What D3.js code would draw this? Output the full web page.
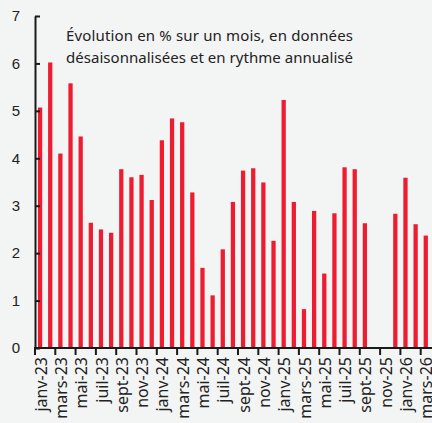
<!DOCTYPE html>
<html>
<head>
<meta charset="utf-8">
<script src="https://cdn.jsdelivr.net/npm/d3@7"></script>
<style>
  body { margin: 0; background: #f3f4f4; }
  svg { display: block; font-family: "Noto Sans", sans-serif; }
</style>
</head>
<body>
<div id="chart"></div>
<script>
// monthly labels, janv-23 .. mars-26
var monthNames = ["janv", "févr", "mars", "avr", "mai", "juin", "juil", "août", "sept", "oct", "nov", "déc"];
var months = [];
for (var i = 0; i < 39; i++) {
    months.push(monthNames[i % 12] + "-" + (23 + Math.floor(i / 12)));
}

// % change m/m, seasonally adjusted, annualised (oct-25 & nov-25 missing)
var values = [5.07, 6.02, 4.10, 5.58, 4.46, 2.64, 2.50, 2.43, 3.77, 3.60, 3.65, 3.12,
              4.38, 4.84, 4.76, 3.28, 1.69, 1.11, 2.08, 3.08, 3.74, 3.79, 3.49, 2.26,
              5.23, 3.08, 0.82, 2.89, 1.57, 2.84, 3.81, 3.77, 2.63, null, null, 2.83,
              3.59, 2.61, 2.37];

var yTicks = [0, 1, 2, 3, 4, 5, 6, 7];
var note = ["Évolution en % sur un mois, en données", "désaisonnalisées et en rythme annualisé"];

var data = months.map(function(m, i){ return { month: m, value: values[i] }; });

var width = 432, height = 423;
var margin = { top: 16, right: 1, bottom: 75, left: 35 };

var svg = d3.select("#chart").append("svg")
    .attr("width", width)
    .attr("height", height);

var x = d3.scaleBand()
    .domain(months)
    .range([margin.left, margin.left + 39 * 10.15])
    .paddingInner(0.58)
    .paddingOuter(0.29);

var y = d3.scaleLinear()
    .domain([0, 7])
    .range([height - margin.bottom, margin.top]);

// bars
svg.selectAll(".bar")
    .data(data.filter(function(d){ return d.value != null; }))
    .enter().append("rect")
    .attr("class", "bar")
    .attr("x", function(d){ return x(d.month); })
    .attr("y", function(d){ return y(d.value); })
    .attr("width", x.bandwidth())
    .attr("height", function(d){ return y(0) - y(d.value); })
    .style("fill", "#ee1c30");

// y axis, ticks pointing inward
var yAxis = svg.append("g")
    .attr("transform", "translate(" + margin.left + ",0)")
    .call(d3.axisLeft(y).tickValues(yTicks).tickFormat(d3.format("d"))
        .tickSizeInner(-5).tickSizeOuter(0).tickPadding(15));
yAxis.select(".domain").attr("stroke", "#1a1a1a").attr("stroke-width", 2);
yAxis.selectAll(".tick line").attr("stroke", "#1a1a1a").attr("stroke-width", 2);
yAxis.selectAll("text").style("font-size", "15px").attr("fill", "#222");

// x axis
var step = x.step();
var labelled = months.filter(function(m, i){ return i % 2 == 0; });

var xAxis = svg.append("g")
    .attr("transform", "translate(0," + y(0) + ")");

xAxis.append("line")
    .attr("x1", margin.left - 1)
    .attr("x2", width)
    .attr("stroke", "#1a1a1a")
    .attr("stroke-width", 2);

xAxis.selectAll(".xtick")
    .data(labelled)
    .enter().append("line")
    .attr("class", "xtick")
    .attr("x1", function(d){ return x(d) - x.paddingOuter() * step; })
    .attr("x2", function(d){ return x(d) - x.paddingOuter() * step; })
    .attr("y1", 0)
    .attr("y2", 7)
    .attr("stroke", "#1a1a1a")
    .attr("stroke-width", 2);

xAxis.selectAll(".xlabel")
    .data(labelled)
    .enter().append("text")
    .attr("class", "xlabel")
    .attr("transform", function(d){
        return "translate(" + (x(d) + x.bandwidth() / 2 + 1) + ",9) rotate(-90)";
    })
    .attr("text-anchor", "end")
    .attr("dy", "0.35em")
    .style("font-size", "16px")
    .attr("fill", "#222")
    .text(function(d){ return d; });

// annotation
svg.append("text")
    .attr("x", 66)
    .attr("y", 41)
    .style("font-size", "15px")
    .attr("fill", "#222")
    .selectAll("tspan")
    .data(note)
    .enter().append("tspan")
    .attr("x", 66)
    .attr("dy", function(d, i){ return i == 0 ? 0 : 22; })
    .attr("textLength", 287)
    .attr("lengthAdjust", "spacing")
    .text(function(d){ return d; });
</script>
</body>
</html>
